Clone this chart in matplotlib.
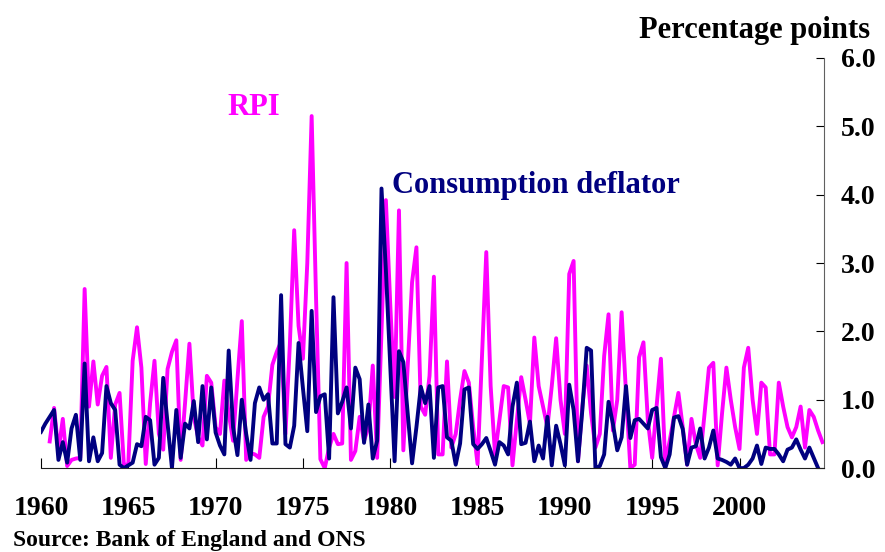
import matplotlib.pyplot as plt
import numpy as np

# quarterly contributions, percentage points
rpi_start = 1960.5  # first RPI observation, 1960 Q3
rpi = [0.39, 0.88, 0.25, 0.72, 0.03, 0.12, 0.14, 0.15,
       2.62, 0.9, 1.56, 0.93, 1.35, 1.48, 0.15, 0.93, 1.1, 0.04, 0.06, 1.57,
       2.06, 1.47, 0.06, 0.95, 1.57, 0.5, 0.27, 1.45, 1.7, 1.87, 0.12, 0.95,
       1.82, 0.75, 0.45, 0.33, 1.35, 1.25, 0.6, 0.5, 1.28, 0.8, 0.4, 1.3,
       2.15, 0.12, 0.22, 0.2, 0.15, 0.75, 0.9, 1.51, 1.7, 1.85, 0.5, 1.8,
       3.48, 2.08, 1.6, 3.0, 5.15, 2.5, 0.13, 0.0, 0.3, 0.5, 0.35, 0.36,
       3.0, 0.12, 0.25, 0.75, 0.4, 0.6, 1.5, 0.15, 2.0, 3.92, 2.4, 1.04,
       3.77, 0.26, 1.5, 2.72, 3.23, 0.9, 0.78, 1.35, 2.8, 0.2, 0.2, 1.56,
       0.3, 0.5, 1.0, 1.42, 1.25, 0.6, 0.06, 1.6, 3.16, 1.2, 0.2, 0.7,
       1.2, 1.18, 0.04, 0.7, 1.33, 1.0, 0.65, 1.91, 1.2, 0.9, 0.6, 1.2,
       1.9, 1.0, 0.5, 2.84, 3.03, 0.1, 0.9, 1.5, 0.8, 0.3, 0.5, 1.64,
       2.25, 0.55, 1.0, 2.28, 1.1, 0.0, 0.05, 1.62, 1.84, 0.7, 0.15, 0.9,
       1.6, 0.05, 0.4, 0.75, 1.1, 0.6, 0.05, 0.72, 0.35, 0.15, 0.8, 1.47,
       1.54, 0.04, 0.8, 1.47, 1.0, 0.6, 0.28, 1.47, 1.76, 1.0, 0.5, 1.25,
       1.18, 0.2, 0.2, 1.25, 0.9, 0.6, 0.45, 0.6, 0.9, 0.3, 0.85, 0.75,
       0.55, 0.38]

cons_start = 1960.0  # consumption deflator from 1960 Q1
cons = [0.53, 0.65, 0.75, 0.85, 0.12, 0.38, 0.08, 0.58, 0.78, 0.12,
        1.53, 0.1, 0.45, 0.1, 0.22, 1.2, 0.95, 0.85, 0.05, 0.0,
        0.04, 0.08, 0.35, 0.32, 0.75, 0.7, 0.05, 0.15, 1.32, 0.65,
        0.0, 0.85, 0.15, 0.65, 0.58, 0.98, 0.38, 1.2, 0.42, 1.18,
        0.52, 0.33, 0.2, 1.72, 0.6, 0.19, 1.0, 0.5, 0.12, 0.95,
        1.18, 1.0, 1.08, 0.36, 0.36, 2.53, 0.35, 0.3, 0.62, 1.83,
        1.17, 0.54, 2.3, 0.82, 1.05, 1.08, 0.14, 2.5, 0.8, 0.97,
        1.18, 0.58, 1.47, 1.3, 0.37, 0.93, 0.14, 0.4, 4.09, 2.9,
        1.5, 0.1, 1.71, 1.55, 0.8, 0.07, 0.6, 1.19, 0.95, 1.2,
        0.15, 1.18, 1.2, 0.45, 0.4, 0.05, 0.36, 1.15, 1.18, 0.35,
        0.28, 0.35, 0.44, 0.25, 0.05, 0.38, 0.33, 0.2, 0.9, 1.25,
        0.35, 0.37, 0.68, 0.1, 0.33, 0.14, 0.75, 0.04, 0.62, 0.35,
        0.04, 1.22, 0.85, 0.1, 0.85, 1.76, 1.72, 0.0, 0.03, 0.2,
        0.97, 0.65, 0.26, 0.45, 1.2, 0.44, 0.7, 0.72, 0.65, 0.58,
        0.85, 0.88, 0.16, 0.0, 0.2, 0.74, 0.76, 0.57, 0.05, 0.3,
        0.32, 0.58, 0.14, 0.3, 0.55, 0.14, 0.12, 0.09, 0.05, 0.14,
        0.0, 0.0, 0.05, 0.14, 0.33, 0.06, 0.3, 0.28, 0.28, 0.2,
        0.1, 0.27, 0.3, 0.42, 0.27, 0.14, 0.3, 0.15, 0.0]

year_ticks = [1960, 1965, 1970, 1975, 1980, 1985, 1990, 1995, 2000]
y_ticks = [0, 1, 2, 3, 4, 5, 6]

rpi_x = rpi_start + np.arange(len(rpi)) / 4
cons_x = cons_start + np.arange(len(cons)) / 4

plt.rcParams['font.family'] = 'Liberation Serif'
plt.rcParams['font.weight'] = 'bold'

fig = plt.figure(figsize=(8.85, 5.52), dpi=100)
ax = fig.add_axes([0.0463, 0.152, 0.885, 0.743])

ax.plot(rpi_x, rpi, color='#FF00FF', lw=2.8)
ax.plot(cons_x, cons, color='#000080', lw=2.8)

ax.set_xlim(1960, 2004.85)
ax.set_ylim(0, 6)

ax.spines['left'].set_visible(False)
ax.spines['top'].set_visible(False)
ax.spines['right'].set_color('#606060')
ax.spines['bottom'].set_color('#202020')

ax.yaxis.tick_right()
ax.set_yticks(y_ticks)
ax.set_yticklabels(['%.1f' % v for v in y_ticks], fontsize=20, fontweight='bold')
ax.set_xticks(year_ticks)
ax.set_xticklabels([str(y) for y in year_ticks], fontsize=20, fontweight='bold')
ax.tick_params(axis='y', direction='in', length=6, pad=12, colors='black')
ax.tick_params(axis='x', direction='in', length=7, pad=20)

ax.text(1970.7, 5.16, 'RPI', color='#FF00FF', fontsize=22, fontweight='bold')
ax.text(1980.1, 4.03, 'Consumption deflator', color='#000080', fontsize=22,
        fontweight='bold')

fig.text(0.983, 0.945, 'Percentage points', ha='right', va='center',
         fontsize=22, fontweight='bold')
fig.text(0.015, 0.02, 'Source: Bank of England and ONS', ha='left',
         va='center', fontsize=17, fontweight='bold')

fig.savefig('out.png', dpi=100)
